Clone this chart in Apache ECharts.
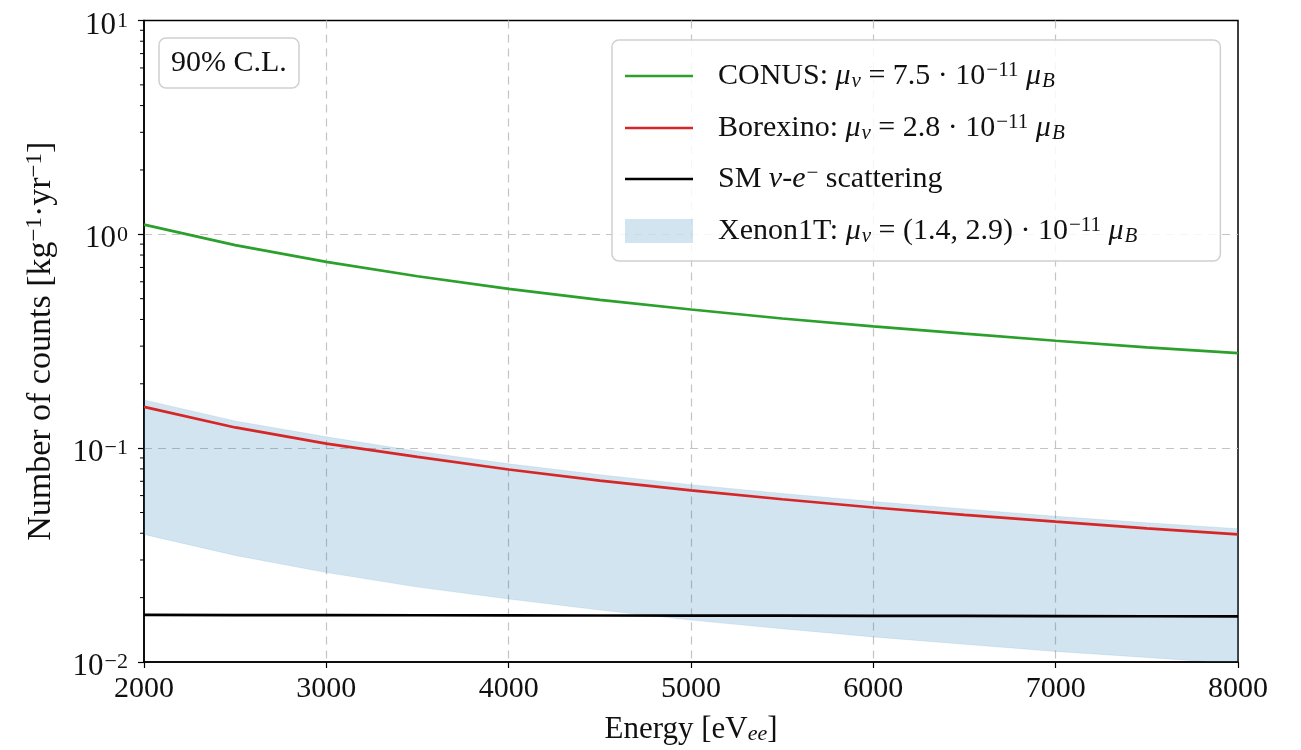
<!DOCTYPE html>
<html>
<head>
<meta charset="utf-8">
<script src="https://cdn.jsdelivr.net/npm/echarts@6/dist/echarts.min.js"></script>
<style>
  html, body { margin: 0; padding: 0; background: #fff; }
  #chart { width: 1301px; height: 750px; }
</style>
</head>
<body>
<div id="chart"></div>
<script>
// energy grid [eV_ee]
const energy = [2000, 2500, 3000, 3500, 4000, 4500, 5000, 5500, 6000, 6500, 7000, 7500, 8000];
// counts [kg^-1 yr^-1]
const conus = [1.11, 0.89, 0.743, 0.637, 0.556, 0.494, 0.445, 0.404, 0.371, 0.343, 0.318, 0.296, 0.278];
const borexino = [0.156, 0.125, 0.105, 0.091, 0.0795, 0.0705, 0.0635, 0.0577, 0.0528, 0.0488, 0.0453, 0.0422, 0.0395];
const smScatter = [0.0166, 0.01658, 0.01656, 0.01654, 0.01652, 0.0165, 0.01648, 0.01646, 0.01644, 0.01642, 0.0164, 0.01637, 0.01634];
const xenonHigh = [0.168, 0.134, 0.113, 0.0968, 0.0845, 0.0751, 0.0675, 0.0614, 0.0563, 0.052, 0.048, 0.0448, 0.042];
const xenonLow = [0.0395, 0.0315, 0.0262, 0.0224, 0.0197, 0.0175, 0.0157, 0.0143, 0.0131, 0.0121, 0.0112, 0.0105, 0.0098];
// minor ticks on the log axis
const minorTicks = [0.02, 0.03, 0.04, 0.05, 0.06, 0.07, 0.08, 0.09,
                    0.2, 0.3, 0.4, 0.5, 0.6, 0.7, 0.8, 0.9,
                    2, 3, 4, 5, 6, 7, 8, 9];

const names = [
  'CONUS: {i|μ}{sub|ν} = 7.5 · 10{sup|−11} {i|μ}{sub|B}',
  'Borexino: {i|μ}{sub|ν} = 2.8 · 10{sup|−11} {i|μ}{sub|B}',
  'SM {i|ν}-{i|e}{sup|−} scattering',
  'Xenon1T: {i|μ}{sub|ν} = (1.4, 2.9) · 10{sup|−11} {i|μ}{sub|B}'
];

const FONT = 'Liberation Serif';
const INK = '#111';
const richText = {
  i: { fontFamily: FONT, fontStyle: 'italic', fontSize: 30, color: INK },
  sub: { fontFamily: FONT, fontStyle: 'italic', fontSize: 21, color: INK, verticalAlign: 'bottom', lineHeight: 20, padding: [12, 0, 0, 1] },
  sup: { fontFamily: FONT, fontSize: 21, color: INK, verticalAlign: 'top', lineHeight: 20, padding: [0, 0, 15, 1] }
};
const lineIcon = 'path://M0,0 L68,0 L68,2.6 L0,2.6 Z';
const gridLine = { show: true, showMinLine: false, showMaxLine: false, lineStyle: { color: '#c4c4c4', type: [8, 6], width: 1.2 } };

const chart = echarts.init(document.getElementById('chart'));

const toPairs = ys => energy.map((x, i) => [x, ys[i]]);

chart.setOption({
  animation: false,
  backgroundColor: '#fff',
  textStyle: { fontFamily: FONT },
  title: {
    text: '90% C.L.',
    left: 159,
    top: 38,
    padding: [9, 12, 9, 12],
    borderColor: '#d0d0d0',
    borderWidth: 1.5,
    borderRadius: 7,
    textStyle: { fontFamily: FONT, fontSize: 30, fontWeight: 'normal', color: INK, lineHeight: 32 }
  },
  grid: {
    left: 144, right: 63, top: 20, bottom: 88,
    show: true, borderColor: '#000', borderWidth: 1.5, backgroundColor: 'transparent'
  },
  legend: {
    orient: 'vertical',
    left: 612,
    top: 40,
    padding: [19, 83, 10, 13],
    itemWidth: 68,
    itemHeight: 24,
    itemGap: 15,
    backgroundColor: 'rgba(255,255,255,0.85)',
    borderColor: '#d0d0d0',
    borderWidth: 1.5,
    borderRadius: 7,
    textStyle: { fontFamily: FONT, fontSize: 30, color: INK, lineHeight: 32, padding: [0, 0, 0, 20], rich: richText },
    data: [
      { name: names[0], icon: lineIcon },
      { name: names[1], icon: lineIcon },
      { name: names[2], icon: lineIcon },
      { name: names[3], icon: 'rect', itemStyle: { color: 'rgba(31,119,180,0.2)' } }
    ]
  },
  xAxis: {
    type: 'value',
    min: 2000,
    max: 8000,
    interval: 1000,
    name: 'Energy [eV{sub|ee}]',
    nameLocation: 'middle',
    nameGap: 52,
    nameTextStyle: { fontFamily: FONT, fontSize: 31, color: INK, rich: {
      sub: { fontFamily: FONT, fontStyle: 'italic', fontSize: 22, color: INK, verticalAlign: 'bottom', lineHeight: 20, padding: [12, 0, 0, 0] }
    } },
    axisLine: { lineStyle: { color: '#000', width: 1.5 } },
    axisTick: { inside: false, length: 6, lineStyle: { color: '#000', width: 1.2 } },
    axisLabel: { fontFamily: FONT, fontSize: 30, color: INK, margin: 12, formatter: v => String(v) },
    splitLine: gridLine
  },
  yAxis: {
    type: 'log',
    logBase: 10,
    min: 0.01,
    max: 10,
    name: 'Number of counts [kg{sup|−1}·yr{sup|−1}]',
    nameLocation: 'middle',
    nameGap: 83,
    nameTextStyle: { fontFamily: FONT, fontSize: 34, color: INK, rich: {
      sup: { fontFamily: FONT, fontSize: 23, color: INK, verticalAlign: 'top', lineHeight: 20, padding: [0, 0, 15, 0] }
    } },
    axisLine: { show: true, lineStyle: { color: '#000', width: 1.5 } },
    axisTick: { show: true, inside: false, length: 6, lineStyle: { color: '#000', width: 1.2 } },
    axisLabel: {
      fontFamily: FONT, fontSize: 31, color: INK, margin: 16, lineHeight: 31, padding: [10, 0, 0, 0],
      formatter: v => '10{sup|' + String(Math.round(Math.log10(v))).replace('-', '−') + '}',
      rich: { sup: { fontFamily: FONT, fontSize: 22, color: INK, verticalAlign: 'top', lineHeight: 21, padding: [0, 0, 18, 1] } }
    },
    splitLine: gridLine
  },
  series: [
    {
      name: names[3],
      type: 'custom',
      z: 1,
      silent: true,
      data: [[energy[0], xenonLow[0]]],
      renderItem: function (params, api) {
        const pts = [];
        for (let i = 0; i < energy.length; i++) pts.push(api.coord([energy[i], xenonHigh[i]]));
        for (let i = energy.length - 1; i >= 0; i--) pts.push(api.coord([energy[i], xenonLow[i]]));
        const cs = params.coordSys;
        return {
          type: 'polygon',
          shape: { points: pts },
          style: { fill: 'rgba(31,119,180,0.2)', stroke: 'rgba(31,119,180,0.1)', lineWidth: 1 },
          clipPath: { type: 'rect', shape: { x: cs.x, y: cs.y, width: cs.width, height: cs.height } }
        };
      }
    },
    {
      name: names[0],
      type: 'line',
      z: 3,
      symbol: 'none',
      color: '#2ca02c',
      lineStyle: { color: '#2ca02c', width: 2.7 },
      data: toPairs(conus)
    },
    {
      name: names[1],
      type: 'line',
      z: 3,
      symbol: 'none',
      color: '#d62728',
      lineStyle: { color: '#d62728', width: 2.7 },
      data: toPairs(borexino)
    },
    {
      name: names[2],
      type: 'line',
      z: 3,
      symbol: 'none',
      color: '#000',
      lineStyle: { color: '#000', width: 2.7 },
      data: toPairs(smScatter)
    },
    {
      name: 'minorTicks',
      type: 'custom',
      z: 4,
      silent: true,
      data: minorTicks.map(v => [energy[0], v]),
      renderItem: function (params, api) {
        const p = api.coord([api.value(0), api.value(1)]);
        return {
          type: 'line',
          shape: { x1: p[0] - 4, y1: p[1], x2: p[0], y2: p[1] },
          style: { stroke: '#000', lineWidth: 1 }
        };
      }
    }
  ]
});
</script>
</body>
</html>
